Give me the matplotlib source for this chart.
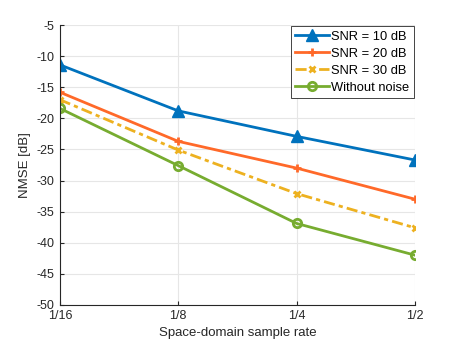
import numpy as np
import matplotlib
matplotlib.use('Agg')
from matplotlib import pyplot as plt

plt.rcParams['font.family'] = ['Liberation Sans', 'DejaVu Sans']
plt.rcParams['axes.unicode_minus'] = False

rates = ['1/16', '1/8', '1/4', '1/2']
snr10 = [-11.4, -18.8, -22.9, -26.7]
snr20 = [-15.8, -23.7, -28.0, -33.0]
snr30 = [-17.0, -25.1, -32.1, -37.6]
noiseless = [-18.4, -27.6, -36.9, -42.0]

x = np.arange(len(rates))

fig = plt.figure(figsize=(4.57, 3.43), dpi=100)
ax = fig.add_axes([0.131, 0.111, 0.777, 0.816])

ax.plot(x, snr10, color='#0072BD', lw=2, marker='^', ms=8, label='SNR = 10 dB')
ax.plot(x, snr20, color='#FF6929', lw=2, marker='+', ms=6, mew=2, label='SNR = 20 dB')
ax.plot(x, snr30, color='#EDB120', lw=2, ls=(0, (4, 1.5, 1.5, 1.5)), marker='x', ms=5, mew=2, label='SNR = 30 dB')
ax.plot(x, noiseless, color='#77AC30', lw=2, marker='o', ms=6, mfc='none', mew=2, label='Without noise')

ax.set_xlim(0, 3)
ax.set_ylim(-50, -5)
ax.set_xticks(x)
ax.set_xticklabels(rates)
ax.set_yticks(np.arange(-50, -4, 5))
ax.grid(True, color='#e6e6e6', lw=0.8)
ax.set_axisbelow(True)
for s in ['top', 'right']:
    ax.spines[s].set_visible(False)
for s in ['left', 'bottom']:
    ax.spines[s].set_color('#262626')
    ax.spines[s].set_linewidth(0.8)
ax.tick_params(labelsize=9, colors='#262626', length=3, direction='in', pad=4)
ax.set_xlabel('Space-domain sample rate', fontsize=9.5, color='#262626', labelpad=3)
ax.set_ylabel('NMSE [dB]', fontsize=9.5, color='#262626')

leg = ax.legend(loc='upper right', fontsize=9.3, fancybox=False, framealpha=1,
                edgecolor='#262626', borderaxespad=0.1, handlelength=2.6,
                labelspacing=0.38, borderpad=0.35, handletextpad=0.15)
leg.get_frame().set_linewidth(0.6)

fig.savefig('out.png', dpi=100)
